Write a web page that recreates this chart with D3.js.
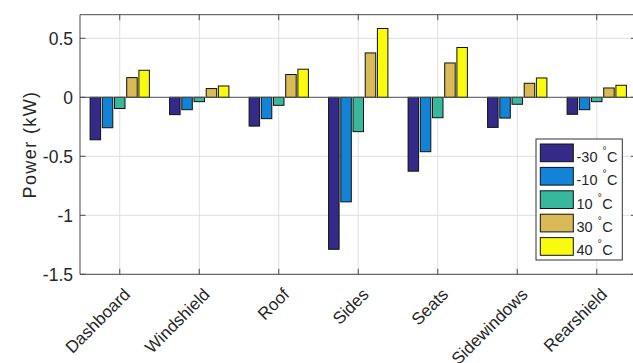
<!DOCTYPE html>
<html>
<head>
<meta charset="utf-8">
<script src="https://cdn.jsdelivr.net/npm/d3@7"></script>
<style>
html,body{margin:0;padding:0;background:#fff;overflow:hidden;}
svg{display:block;font-family:"Liberation Sans",Arial,Helvetica,sans-serif;}
</style>
</head>
<body>
<svg id="chart" width="633" height="363"></svg>
<script>
const categories = ["Dashboard","Windshield","Roof","Sides","Seats","Sidewindows","Rearshield"];
const seriesNames = ["-30","-10","10","30","40"];
const seriesColors = ["#352a87","#1283d5","#37b89d","#d9ba56","#f9fb0e"];
const m30 = [-0.36, -0.147, -0.244, -1.288, -0.626, -0.255, -0.144];
const m10 = [-0.258, -0.105, -0.181, -0.886, -0.461, -0.176, -0.105];
const p10 = [-0.095, -0.037, -0.068, -0.291, -0.173, -0.059, -0.037];
const p30 = [0.167, 0.074, 0.193, 0.376, 0.291, 0.119, 0.079];
const p40 = [0.229, 0.096, 0.238, 0.583, 0.422, 0.164, 0.102];
const yTicks = [-1.5, -1, -0.5, 0, 0.5];
const yTickLabels = ["-1.5","-1","-0.5","0","0.5"];
const yLabel = "Power (kW)";

const series = [m30, m10, p10, p30, p40];

const svg = d3.select("#chart");
const L = 80, R = 636.5, T = 14.7, B = 274.3;
const axisColor = "#4a4a4a";
const textColor = "#262626";

const x = d3.scaleBand().domain(categories).range([L, R]).paddingInner(0).paddingOuter(0);
const y = d3.scaleLinear().domain([-1.5, 0.7]).range([B, T]);
const sub = d3.scaleBand().domain(seriesNames).range([-30.5, 30.5]);
const barW = 10.5;

// grid
const g = svg.append("g");
g.selectAll(".gx").data(categories).join("line")
  .attr("x1", d => x(d) + x.bandwidth()/2).attr("x2", d => x(d) + x.bandwidth()/2)
  .attr("y1", T).attr("y2", B).attr("stroke", "#dedede").attr("stroke-width", 1);
g.selectAll(".gy").data(yTicks).join("line")
  .attr("x1", L).attr("x2", R).attr("y1", d => y(d)).attr("y2", d => y(d))
  .attr("stroke", "#dedede").attr("stroke-width", 1);

// bars
const bars = svg.append("g");
series.forEach((vals, si) => {
  bars.selectAll(".b" + si).data(vals).join("rect")
    .attr("x", (d, i) => x(categories[i]) + x.bandwidth()/2 + sub(seriesNames[si]) + sub.bandwidth()/2 - barW/2)
    .attr("width", barW)
    .attr("y", d => Math.min(y(d), y(0)))
    .attr("height", d => Math.abs(y(d) - y(0)))
    .attr("fill", seriesColors[si])
    .attr("stroke", "#111").attr("stroke-width", 1);
});

// baseline
svg.append("line").attr("x1", L).attr("x2", R).attr("y1", y(0)).attr("y2", y(0))
  .attr("stroke", "#555").attr("stroke-width", 1);

// axes box
const ax = svg.append("g").attr("fill", "none").attr("stroke", axisColor).attr("stroke-width", 1);
ax.append("line").attr("x1", L).attr("x2", R).attr("y1", B).attr("y2", B);
ax.append("line").attr("x1", L).attr("x2", R).attr("y1", T).attr("y2", T);
ax.append("line").attr("x1", L).attr("x2", L).attr("y1", T).attr("y2", B);
ax.append("line").attr("x1", R).attr("x2", R).attr("y1", T).attr("y2", B);
const tl = 5.5;
categories.forEach(c => {
  const cx = x(c) + x.bandwidth()/2;
  ax.append("line").attr("x1", cx).attr("x2", cx).attr("y1", B).attr("y2", B - tl);
  ax.append("line").attr("x1", cx).attr("x2", cx).attr("y1", T).attr("y2", T + tl);
});
yTicks.forEach(t => {
  ax.append("line").attr("x1", L).attr("x2", L + tl).attr("y1", y(t)).attr("y2", y(t));
  ax.append("line").attr("x1", R).attr("x2", R - tl).attr("y1", y(t)).attr("y2", y(t));
});

// y tick labels
svg.append("g").selectAll("text").data(yTicks).join("text")
  .attr("x", L - 7).attr("y", d => y(d)).attr("dy", "0.36em")
  .attr("text-anchor", "end").attr("font-size", 17.5).attr("fill", textColor)
  .text((d, i) => yTickLabels[i]);

// x tick labels
svg.append("g").selectAll("text").data(categories).join("text")
  .attr("transform", d => `translate(${x(d) + x.bandwidth()/2 + 11.5},295.5) rotate(-45)`)
  .attr("text-anchor", "end").attr("font-size", 17).attr("fill", textColor)
  .text(d => d);

// y label
svg.append("text")
  .attr("transform", `translate(36,${(T + B)/2}) rotate(-90)`)
  .attr("text-anchor", "middle").attr("font-size", 18).attr("letter-spacing", 1.4)
  .attr("fill", textColor)
  .text(yLabel);

// legend
const lg = svg.append("g");
lg.append("rect").attr("x", 536).attr("y", 139).attr("width", 86.3).attr("height", 121)
  .attr("fill", "#fff").attr("stroke", "#333").attr("stroke-width", 1);
seriesNames.forEach((n, i) => {
  const yy = 144 + i * 23.4;
  lg.append("rect").attr("x", 540.3).attr("y", yy).attr("width", 33).attr("height", 17.7)
    .attr("fill", seriesColors[i]).attr("stroke", "#111").attr("stroke-width", 1);
  const t = lg.append("text").attr("x", 576.5).attr("y", yy + 17.7)
    .attr("font-size", 14.5).attr("fill", textColor);
  t.append("tspan").text(n + " ");
  t.append("tspan").attr("font-size", 10).attr("dy", -8).attr("dx", 1).text("°");
  t.append("tspan").attr("dy", 8).attr("dx", 0.5).text("C");
});
</script>
</body>
</html>
